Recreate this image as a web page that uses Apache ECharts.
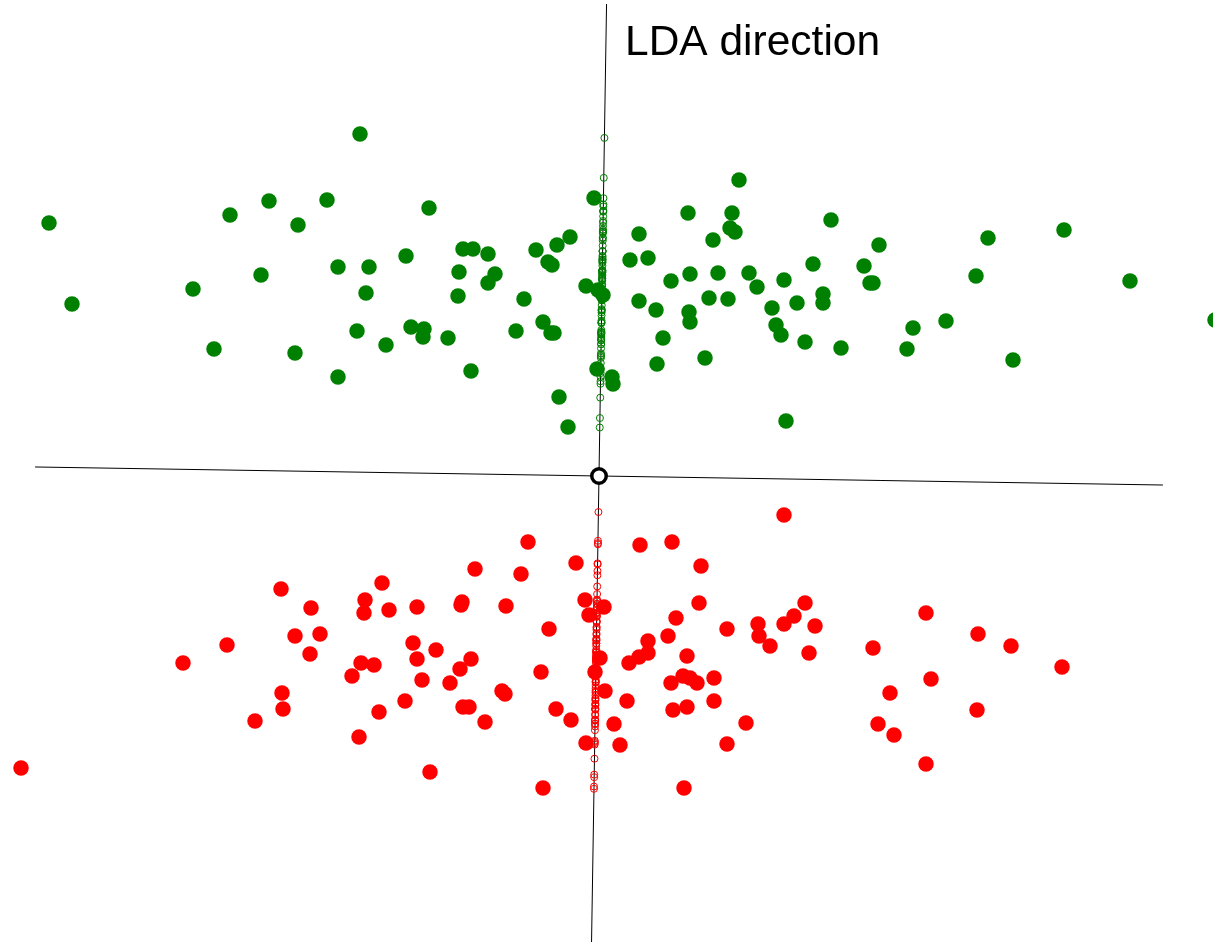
<!DOCTYPE html>
<html>
<head>
<meta charset="utf-8">
<title>LDA direction</title>
<script src="https://cdn.jsdelivr.net/npm/echarts@6/dist/echarts.min.js"></script>
<style>
  html, body { margin: 0; padding: 0; background: #ffffff; }
  #chart { width: 1213px; height: 942px; }
</style>
</head>
<body>
<div id="chart"></div>
<script>
// Two classes of 2-D samples, centred on the pooled mean (the origin).
const greenPoints = [
  [-5.50, 2.53], [-5.27, 1.72], [-4.06, 1.87], [-3.85, 1.27], [-3.69, 2.61],
  [-3.38, 2.01], [-3.30, 2.75], [-3.04, 1.23], [-3.01, 2.51], [-2.72, 2.76],
  [-2.61, 2.09], [-2.61, 0.99], [-2.42, 1.45], [-2.39, 3.42], [-2.33, 1.83],
  [-2.30, 2.09], [-2.13, 1.31], [-1.93, 2.20], [-1.88, 1.49], [-1.75, 1.47],
  [-1.76, 1.39], [-1.70, 2.68], [-1.51, 1.38], [-1.41, 1.80], [-1.40, 2.04],
  [-1.36, 2.27], [-1.28, 1.05], [-1.26, 2.27], [-1.11, 2.22], [-1.11, 1.93],
  [-1.04, 2.02], [-0.83, 1.45], [-0.75, 1.77], [-0.63, 2.26], [-0.56, 1.54],
  [-0.51, 2.14], [-0.47, 2.11], [-0.48, 1.43], [-0.45, 1.43], [-0.42, 2.31],
  [-0.40, 0.79], [-0.31, 0.49], [-0.29, 2.39], [-0.13, 1.90], [-0.05, 2.78],
  [-0.02, 1.07], [-0.01, 1.86], [0.04, 1.81], [0.13, 0.99], [0.14, 0.92],
  [0.31, 2.16], [0.40, 2.42], [0.40, 1.75], [0.49, 2.18], [0.57, 1.66],
  [0.58, 1.12], [0.64, 1.38], [0.72, 1.95], [0.89, 2.63], [0.90, 1.64],
  [0.91, 2.02], [0.91, 1.54], [1.06, 1.18], [1.10, 1.78], [1.14, 2.36],
  [1.19, 2.03], [1.29, 1.77], [1.31, 2.48], [1.33, 2.63], [1.36, 2.44],
  [1.40, 2.96], [1.50, 2.03], [1.58, 1.89], [1.73, 1.68], [1.77, 1.51],
  [1.82, 1.41], [1.85, 1.96], [1.87, 0.55], [1.98, 1.73], [2.06, 1.34],
  [2.14, 2.12], [2.24, 1.82], [2.24, 1.73], [2.32, 2.56], [2.42, 1.28],
  [2.65, 2.10], [2.71, 1.93], [2.74, 1.93], [2.80, 2.31], [3.08, 1.27],
  [3.14, 1.48], [3.47, 1.55], [3.77, 2.00], [3.89, 2.38], [4.14, 1.16],
  [4.65, 2.46], [5.31, 1.95], [6.16, 1.56]
];

const redPoints = [
  [-5.78, -2.92], [-4.16, -1.87], [-3.72, -1.69], [-3.44, -2.45], [-3.18, -1.13],
  [-3.17, -2.17], [-3.16, -2.33], [-3.04, -1.60], [-2.89, -1.78], [-2.88, -1.32],
  [-2.79, -1.58], [-2.47, -2.00], [-2.40, -2.61], [-2.38, -1.87], [-2.35, -1.37],
  [-2.34, -1.24], [-2.25, -1.89], [-2.20, -2.36], [-2.17, -1.07], [-2.10, -1.34],
  [-1.94, -2.25], [-1.86, -1.67], [-1.82, -1.31], [-1.82, -1.83], [-1.77, -2.04],
  [-1.69, -2.96], [-1.63, -1.74], [-1.49, -2.07], [-1.39, -1.93], [-1.38, -1.29],
  [-1.37, -1.26], [-1.36, -2.31], [-1.30, -2.31], [-1.28, -1.83], [-1.24, -0.93],
  [-1.14, -2.46], [-0.97, -2.15], [-0.94, -2.18], [-0.93, -1.30], [-0.78, -0.98],
  [-0.71, -0.66], [-0.58, -1.96], [-0.56, -3.12], [-0.50, -1.53], [-0.43, -2.33],
  [-0.28, -2.44], [-0.23, -0.87], [-0.14, -1.24], [-0.13, -2.67], [-0.10, -1.39],
  [-0.04, -1.96], [0.01, -1.82], [0.05, -1.31], [0.06, -2.15], [0.15, -2.48],
  [0.21, -2.69], [0.28, -2.25], [0.30, -1.87], [0.40, -1.81], [0.41, -0.69],
  [0.49, -1.65], [0.49, -1.77], [0.69, -1.60], [0.72, -2.07], [0.73, -0.66],
  [0.74, -2.34], [0.77, -1.42], [0.84, -2.00], [0.85, -3.12], [0.88, -1.80],
  [0.88, -2.31], [0.91, -2.02], [0.98, -2.07], [1.00, -1.27], [1.02, -0.90],
  [1.15, -2.02], [1.15, -2.25], [1.28, -1.53], [1.28, -2.68], [1.47, -2.47],
  [1.59, -1.48], [1.60, -1.60], [1.71, -1.70], [1.85, -0.39], [1.85, -1.48],
  [1.95, -1.40], [2.06, -1.27], [2.10, -1.77], [2.16, -1.50], [2.74, -1.72],
  [2.79, -2.48], [2.91, -2.17], [2.95, -2.59], [3.27, -1.37], [3.27, -2.88],
  [3.32, -2.03], [3.78, -2.34], [3.79, -1.58], [4.12, -1.70], [4.63, -1.91]
];

// Discriminant direction (un-normalised) and the drawn extent of each line.
const ldaDirection = [0.15, 9.37];
const ldaExtent = [-4.70, 4.72];        // along the LDA direction
const boundaryExtent = [-5.64, 5.64];   // along the perpendicular (decision boundary)
const centre = [0, 0];
const titleText = 'LDA direction';

// Plot window in data units.
const xRange = [-5.99, 6.14];
const yRange = [-4.66, 4.76];

const norm = Math.hypot(ldaDirection[0], ldaDirection[1]);
const d = [ldaDirection[0] / norm, ldaDirection[1] / norm];
const perp = [d[1], -d[0]];

// Orthogonal projection of a sample onto the discriminant axis.
function project(p) {
  const t = p[0] * d[0] + p[1] * d[1];
  return [t * d[0], t * d[1]];
}
const ldaLine = ldaExtent.map(t => [t * d[0], t * d[1]]);
const boundaryLine = boundaryExtent.map(t => [t * perp[0], t * perp[1]]);

const chart = echarts.init(document.getElementById('chart'), null, { renderer: 'canvas' });

chart.setOption({
  animation: false,
  backgroundColor: '#ffffff',
  title: {
    text: titleText,
    left: 625,
    top: 22,
    padding: 0,
    textStyle: {
      fontFamily: 'Liberation Sans, Arial, sans-serif',
      fontSize: 42.5,
      fontWeight: 'normal',
      color: '#000000'
    }
  },
  grid: { left: 0, right: 0, top: 0, bottom: 0, containLabel: false },
  xAxis: {
    type: 'value', min: xRange[0], max: xRange[1],
    show: false, splitLine: { show: false }
  },
  yAxis: {
    type: 'value', min: yRange[0], max: yRange[1],
    show: false, splitLine: { show: false }
  },
  series: [
    {
      name: 'LDA axis',
      type: 'line',
      data: ldaLine,
      symbol: 'none',
      lineStyle: { color: '#000000', width: 1, opacity: 1 },
      z: 1
    },
    {
      name: 'boundary',
      type: 'line',
      data: boundaryLine,
      symbol: 'none',
      lineStyle: { color: '#000000', width: 1, opacity: 1 },
      z: 1
    },
    {
      name: 'green projected',
      type: 'scatter',
      data: greenPoints.map(project),
      symbol: 'circle',
      symbolSize: 7,
      itemStyle: { color: 'rgba(0,0,0,0)', borderColor: '#008000', borderWidth: 1, opacity: 1 },
      z: 2
    },
    {
      name: 'red projected',
      type: 'scatter',
      data: redPoints.map(project),
      symbol: 'circle',
      symbolSize: 7,
      itemStyle: { color: 'rgba(0,0,0,0)', borderColor: '#ff0000', borderWidth: 1, opacity: 1 },
      z: 2
    },
    {
      name: 'green',
      type: 'scatter',
      data: greenPoints,
      clip: false,
      symbol: 'circle',
      symbolSize: 15.5,
      itemStyle: { color: '#008000', opacity: 1 },
      z: 3
    },
    {
      name: 'red',
      type: 'scatter',
      data: redPoints,
      clip: false,
      symbol: 'circle',
      symbolSize: 15.5,
      itemStyle: { color: '#ff0000', opacity: 1 },
      z: 3
    },
    {
      name: 'mean',
      type: 'scatter',
      data: [centre],
      symbol: 'circle',
      symbolSize: 14.5,
      itemStyle: { color: '#ffffff', borderColor: '#000000', borderWidth: 3.5, opacity: 1 },
      z: 4
    }
  ]
});
</script>
</body>
</html>
